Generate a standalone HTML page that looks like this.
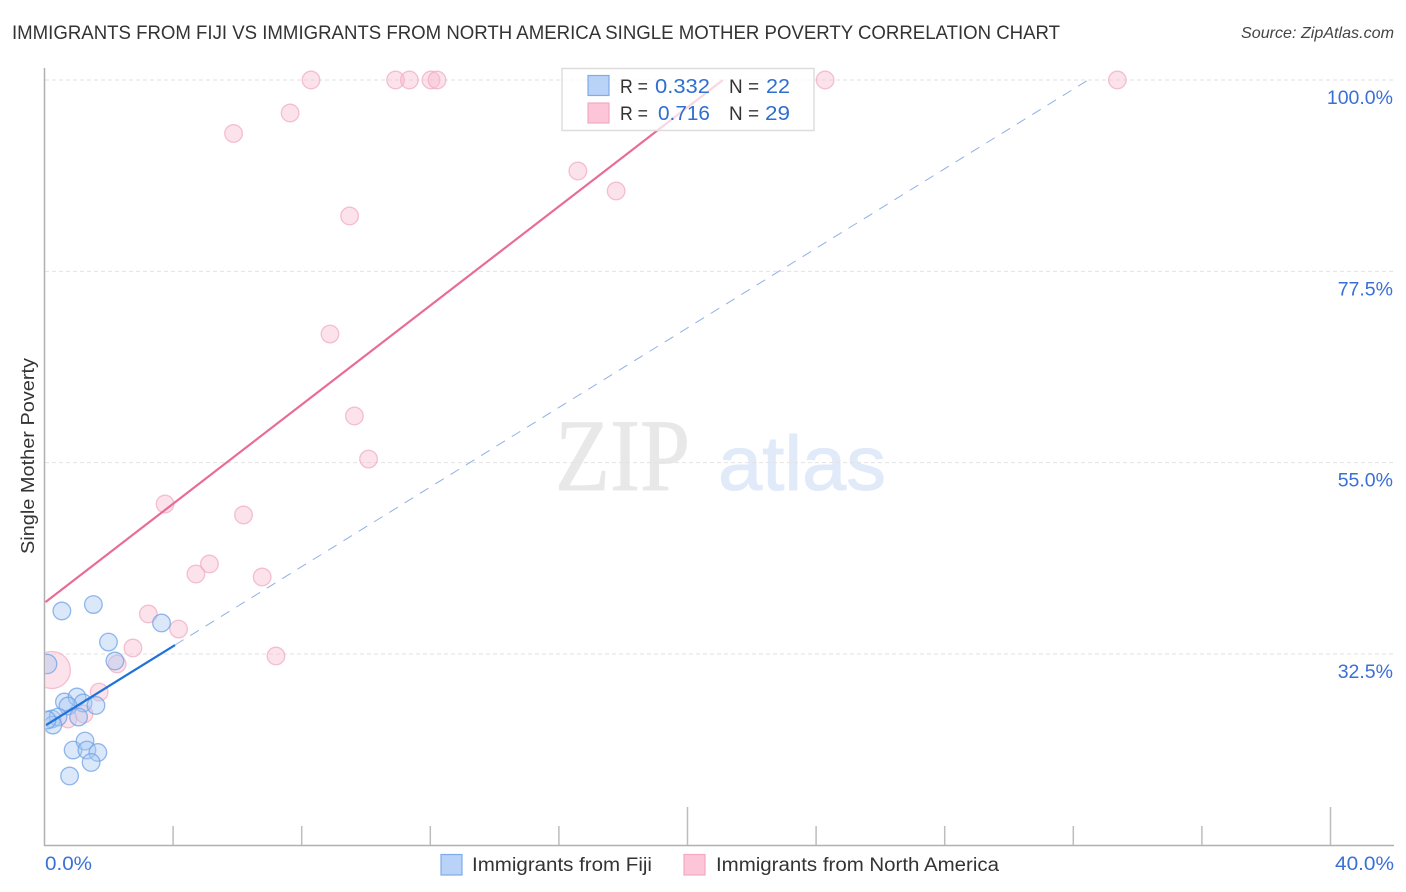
<!DOCTYPE html>
<html lang="en">
<head>
<meta charset="utf-8">
<title>Single Mother Poverty Correlation Chart</title>
<style>
html,body{margin:0;padding:0;background:#fff;width:1406px;height:892px;overflow:hidden}
svg{display:block}
text{font-family:"Liberation Sans",sans-serif}
</style>
</head>
<body>
<svg id="chart" xmlns="http://www.w3.org/2000/svg" width="1406" height="892" viewBox="0 0 1406 892">
  <defs>
    <clipPath id="plot-clip"><rect x="45.5" y="60" width="1360" height="785"/></clipPath>
  </defs>
  <text x="12" y="39" font-size="19.5" fill="#333" textLength="1048" lengthAdjust="spacingAndGlyphs">IMMIGRANTS FROM FIJI VS IMMIGRANTS FROM NORTH AMERICA SINGLE MOTHER POVERTY CORRELATION CHART</text>
  <text x="1241" y="38" font-size="16" font-style="italic" fill="#444" textLength="153" lengthAdjust="spacingAndGlyphs">Source: ZipAtlas.com</text>

  <g>
    <text x="555" y="490" font-size="103" fill="#e8e8e8" stroke="#e8e8e8" stroke-width="0.8" textLength="135" lengthAdjust="spacingAndGlyphs" style="font-family:'Liberation Serif',serif">ZIP</text>
    <text x="718" y="490" font-size="77" fill="#e1eaf9" stroke="#e1eaf9" stroke-width="1" textLength="168" lengthAdjust="spacingAndGlyphs">atlas</text>
  </g>

  <g id="grid"></g>
  <g id="axes"></g>
  <g id="points" clip-path="url(#plot-clip)"></g>
  <g id="trends"></g>

  <g>
    <rect x="562" y="68.5" width="252" height="62" fill="#fff" fill-opacity="0.72" stroke="#ddd" stroke-width="1.5"/>
    <rect x="588" y="75.5" width="21" height="20" fill="#b8d3f7" stroke="#7fabe8" stroke-width="1.2"/>
    <rect x="588" y="103" width="21" height="20" fill="#fcc6d8" stroke="#f3a9c0" stroke-width="1.2"/>
    <text x="620" y="93" font-size="19.5" fill="#333" textLength="28" lengthAdjust="spacingAndGlyphs">R =</text>
    <text x="655" y="93" font-size="20.5" fill="#2f6fd0" textLength="55" lengthAdjust="spacingAndGlyphs">0.332</text>
    <text x="729" y="93" font-size="19.5" fill="#333" textLength="30" lengthAdjust="spacingAndGlyphs">N =</text>
    <text x="766" y="93" font-size="20.5" fill="#2f6fd0" textLength="24" lengthAdjust="spacingAndGlyphs">22</text>
    <text x="620" y="120" font-size="19.5" fill="#333" textLength="28" lengthAdjust="spacingAndGlyphs">R =</text>
    <text x="658" y="120" font-size="20.5" fill="#2f6fd0" textLength="52" lengthAdjust="spacingAndGlyphs">0.716</text>
    <text x="729" y="120" font-size="19.5" fill="#333" textLength="30" lengthAdjust="spacingAndGlyphs">N =</text>
    <text x="765" y="120" font-size="20.5" fill="#2f6fd0" textLength="25" lengthAdjust="spacingAndGlyphs">29</text>
  </g>

  <text transform="translate(34 456) rotate(-90)" font-size="18.5" fill="#333" text-anchor="middle" textLength="196" lengthAdjust="spacingAndGlyphs">Single Mother Poverty</text>

  <g>
    <g>
      <rect x="441" y="854.5" width="21" height="20.5" fill="#b8d3f7" stroke="#7fabe8" stroke-width="1.2"/>
      <text x="472" y="871" font-size="19" fill="#333" textLength="180" lengthAdjust="spacingAndGlyphs">Immigrants from Fiji</text>
    </g>
    <g>
      <rect x="684" y="854.5" width="21" height="20.5" fill="#fcc6d8" stroke="#f3a9c0" stroke-width="1.2"/>
      <text x="716" y="871" font-size="19" fill="#333" textLength="283" lengthAdjust="spacingAndGlyphs">Immigrants from North America</text>
    </g>
  </g>
</svg>

<script>
var yTickValues = [100, 77.5, 55, 32.5];
var yTickLabels = ["100.0%", "77.5%", "55.0%", "32.5%"];
var xTickValues = [0, 4, 8, 12, 16, 20, 24, 28, 32, 36, 40];
var xMajorTicks = [20, 40];
var xEdgeLabels = ["0.0%", "40.0%"];

var fijiX = [0.54, 1.52, 3.64, 1.99, 2.19, 0.08, 0.62, 1.01, 1.20, 0.73, 1.60, 1.06, 0.23, 0.42, 0.26, 0.08, 0.89, 1.26, 1.32, 1.66, 1.45, 0.78];
var fijiY = [37.56, 38.32, 36.15, 33.91, 31.68, 31.33, 26.86, 27.45, 26.74, 26.39, 26.45, 25.09, 24.86, 25.09, 24.15, 24.74, 21.21, 22.27, 21.21, 20.92, 19.75, 18.16];
var fijiWeight = [1, 1, 1, 1, 1, 1.1, 1, 1, 1, 1, 1, 1, 1, 1, 1, 1, 1, 1, 1, 1, 1, 1];

var northAmericaX = [8.29, 10.92, 11.35, 12.02, 12.21, 24.28, 33.37, 7.64, 5.88, 16.59, 17.78, 9.49, 8.88, 9.64, 10.08, 3.75, 6.19, 5.13, 4.71, 6.77, 3.23, 4.17, 2.75, 7.20, 2.26, 0.23, 1.70, 1.23, 0.73];
var northAmericaY = [100, 100, 100, 100, 100, 100, 100, 96.12, 93.71, 89.30, 86.95, 84.01, 70.13, 60.49, 55.43, 50.14, 48.85, 43.09, 41.91, 41.56, 37.21, 35.44, 33.21, 32.27, 31.33, 30.62, 28.03, 25.45, 24.86];
var northAmericaWeight = [1, 1, 1, 1, 1, 1, 1, 1, 1, 1, 1, 1, 1, 1, 1, 1, 1, 1, 1, 1, 1, 1, 1, 1, 1, 2.1, 1, 1, 1];

var fijiTrendX = [0.05, 4.06];
var fijiTrendY = [24.15, 33.56];
var fijiProjectionX = [4.06, 32.46];
var fijiProjectionY = [33.56, 100];
var northAmericaTrendX = [0.03, 21.1];
var northAmericaTrendY = [38.6, 100];

var svgNS = "http://www.w3.org/2000/svg";
function xAxis(v) { return 44.5 + v * 32.15; }
function yAxis(v) { return 80 + (100 - v) * 8.504; }
function make(tag, parent, props) {
  var el = document.createElementNS(svgNS, tag);
  for (var k in props) { el.setAttribute(k, props[k]); }
  parent.appendChild(el);
  return el;
}

var grid = document.getElementById("grid");
var axes = document.getElementById("axes");
var points = document.getElementById("points");
var trends = document.getElementById("trends");

yTickValues.forEach(function (v, i) {
  var line = make("line", grid, {x1: 45, x2: 1394, y1: yAxis(v), y2: yAxis(v), stroke: "#e2e2e2", "stroke-width": 1, "stroke-dasharray": "4 3"});
  
  
  var label = make("text", axes, {x: 1393, y: yAxis(v) + 24, "font-size": 19.5, fill: "#3a70d6", "text-anchor": "end"});
  label.textContent = yTickLabels[i];
  
  
});

var yLine = make("line", axes, {x1: 44.5, x2: 44.5, y1: 68, y2: 846, stroke: "#b0b0b0", "stroke-width": 1.5});


var xLine = make("line", axes, {x1: 44, x2: 1394, y1: 845.5, y2: 845.5, stroke: "#b0b0b0", "stroke-width": 1.5});



xTickValues.forEach(function (v) {
  if (v === 0) { return; }
  var major = xMajorTicks.indexOf(v) >= 0;
  var tick = make("line", axes, {x1: xAxis(v), x2: xAxis(v), y1: major ? 807 : 826, y2: 845, stroke: "#bdbdbd", "stroke-width": 1.5});
  
  
});

var xLabelLeft = make("text", axes, {x: 45, y: 870, "font-size": 19.5, fill: "#3a70d6", textLength: 47, lengthAdjust: "spacingAndGlyphs"});
xLabelLeft.textContent = xEdgeLabels[0];


var xLabelRight = make("text", axes, {x: 1335, y: 870, "font-size": 19.5, fill: "#3a70d6", textLength: 59, lengthAdjust: "spacingAndGlyphs"});
xLabelRight.textContent = xEdgeLabels[1];



northAmericaX.forEach(function (v, i) {
  var dot = make("circle", points, {cx: xAxis(v), cy: yAxis(northAmericaY[i]), r: 8.8 * northAmericaWeight[i], fill: "#f8b9cf", "fill-opacity": 0.42, stroke: "#f0a8c0", "stroke-opacity": 0.7, "stroke-width": 1.3});
  
  
});
fijiX.forEach(function (v, i) {
  var dot = make("circle", points, {cx: xAxis(v), cy: yAxis(fijiY[i]), r: 8.8 * fijiWeight[i], fill: "#a9c9f3", "fill-opacity": 0.42, stroke: "#6ea1e6", "stroke-opacity": 0.75, "stroke-width": 1.3});
  
  
});

var projection = make("line", trends, {x1: xAxis(fijiProjectionX[0]), y1: yAxis(fijiProjectionY[0]), x2: xAxis(fijiProjectionX[1]), y2: yAxis(fijiProjectionY[1]), stroke: "#8fb0e8", "stroke-width": 1, "stroke-dasharray": "10 8"});


var trendFiji = make("line", trends, {x1: xAxis(fijiTrendX[0]), y1: yAxis(fijiTrendY[0]), x2: xAxis(fijiTrendX[1]), y2: yAxis(fijiTrendY[1]), stroke: "#1f72d8", "stroke-width": 2.2});


var trendNA = make("line", trends, {x1: xAxis(northAmericaTrendX[0]), y1: yAxis(northAmericaTrendY[0]), x2: xAxis(northAmericaTrendX[1]), y2: yAxis(northAmericaTrendY[1]), stroke: "#e96c97", "stroke-width": 2.2});


</script>
</body>
</html>
